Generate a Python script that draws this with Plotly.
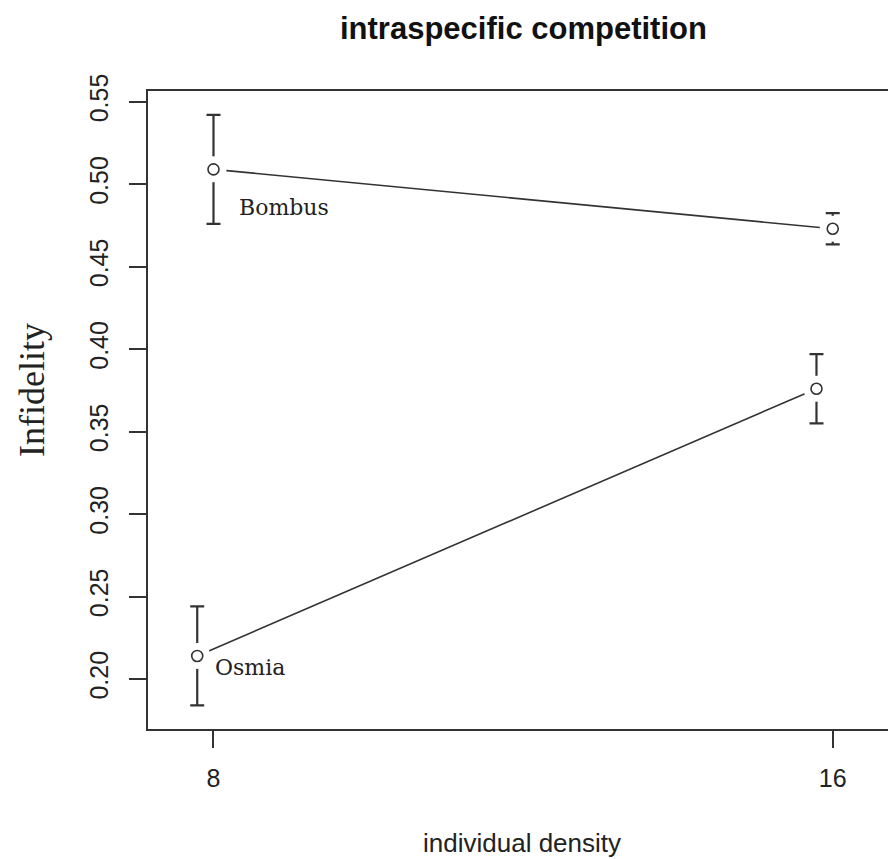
import plotly.graph_objects as go

# ---- data ----
density_bombus = [8, 16]
density_osmia = [7.79, 15.79]          # dodged slightly to the left
infidelity_bombus = [0.509, 0.473]
infidelity_osmia = [0.214, 0.376]
err_bombus = [0.033, 0.0095]
err_osmia = [0.030, 0.021]
x_ticks = [8, 16]
y_ticks = [0.20, 0.25, 0.30, 0.35, 0.40, 0.45, 0.50, 0.55]
series_labels = ["Bombus", "Osmia"]

INK = "#333333"
W, H = 888, 859
L, R, T, B = 148, 0, 91, 130
pw = W - L - R
ph = H - T - B


def px_x(sx):
    """screen x (px) -> paper x"""
    return (sx - L) / pw


def px_y(sy):
    """screen y (px) -> paper y"""
    return (H - B - sy) / ph


fig = go.Figure()

# connecting lines
for xs, ys in [(density_bombus, infidelity_bombus), (density_osmia, infidelity_osmia)]:
    fig.add_trace(go.Scatter(x=xs, y=ys, mode="lines",
                             line=dict(color=INK, width=1.6),
                             showlegend=False, hoverinfo="skip"))

# error bars
for xs, ys, es in [(density_bombus, infidelity_bombus, err_bombus),
                   (density_osmia, infidelity_osmia, err_osmia)]:
    fig.add_trace(go.Scatter(x=xs, y=ys, mode="markers",
                             marker=dict(size=1, color="rgba(0,0,0,0)"),
                             error_y=dict(type="data", array=es, visible=True,
                                          color=INK, thickness=2.2, width=7),
                             showlegend=False, hoverinfo="skip"))

# white gaps around the points (R type="b" look)
for xs, ys in [(density_bombus, infidelity_bombus), (density_osmia, infidelity_osmia)]:
    fig.add_trace(go.Scatter(x=xs, y=ys, mode="markers",
                             marker=dict(size=26, color="white", line=dict(width=0)),
                             showlegend=False, hoverinfo="skip"))

# open circles
for xs, ys in [(density_bombus, infidelity_bombus), (density_osmia, infidelity_osmia)]:
    fig.add_trace(go.Scatter(x=xs, y=ys, mode="markers",
                             marker=dict(size=11, color="white", symbol="circle",
                                         line=dict(color=INK, width=1.6)),
                             showlegend=False, hoverinfo="skip"))

# series labels
fig.add_annotation(x=8.30, y=0.486, text=series_labels[0], showarrow=False,
                   xanchor="left", yanchor="middle",
                   font=dict(family="DejaVu Serif", size=22, color="#222"))
fig.add_annotation(x=8.0, y=0.207, text=series_labels[1], showarrow=False,
                   xanchor="left", yanchor="middle",
                   font=dict(family="DejaVu Serif", size=22, color="#222"))

# title
fig.add_annotation(xref="paper", yref="paper", x=px_x(523.5), y=px_y(28),
                   text="<b>intraspecific competition</b>", showarrow=False,
                   xanchor="center", yanchor="middle",
                   font=dict(family="Liberation Sans, Arial", size=31, color="#111"))
# x label
fig.add_annotation(xref="paper", yref="paper", x=px_x(521.5), y=px_y(843),
                   text="individual density", showarrow=False,
                   xanchor="center", yanchor="middle",
                   font=dict(family="Liberation Sans, Arial", size=26, color="#222"))
# y label
fig.add_annotation(xref="paper", yref="paper", x=px_x(32), y=px_y(390),
                   text="Infidelity", showarrow=False, textangle=-90,
                   xanchor="center", yanchor="middle",
                   font=dict(family="Liberation Serif, Times New Roman", size=36, color="#222"))

fig.update_layout(
    width=W, height=H,
    margin=dict(l=L, r=R, t=T, b=B, autoexpand=False),
    paper_bgcolor="white", plot_bgcolor="white",
    showlegend=False,
    xaxis=dict(range=[7.154, 16.714], tickvals=x_ticks, ticktext=[str(v) for v in x_ticks],
               showgrid=False, zeroline=False,
               showline=True, linecolor=INK, linewidth=1.6, mirror=True,
               ticks="outside", ticklen=17, tickwidth=1.6, tickcolor=INK,
               ticklabelstandoff=9,
               tickfont=dict(family="Liberation Sans, Arial", size=25, color="#222")),
    yaxis=dict(range=[0.1697, 0.5565], tickvals=y_ticks,
               ticktext=[f"{v:.2f}" for v in y_ticks],
               showgrid=False, zeroline=False,
               showline=True, linecolor=INK, linewidth=1.6, mirror=False,
               ticks="outside", ticklen=17, tickwidth=1.6, tickcolor=INK, tickangle=-90,
               ticklabelstandoff=11,
               tickfont=dict(family="Liberation Sans, Arial", size=25, color="#222")),
)

fig.write_html("out.html",
               config={"displayModeBar": False},
               post_script="document.body.style.margin='0';"
                           "document.body.style.overflow='hidden';")
